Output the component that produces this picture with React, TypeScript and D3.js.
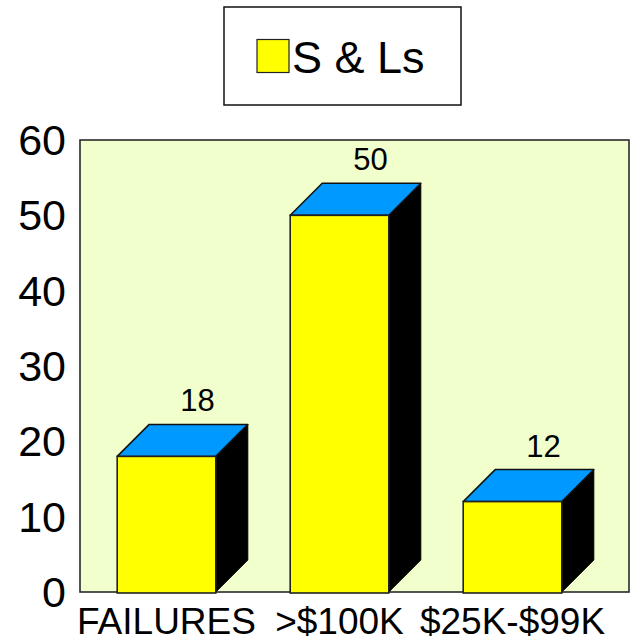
import * as d3 from "d3";

// 데이터
const categories = ["FAILURES", ">$100K", "$25K-$99K"];
const values = [18, 50, 12];
const yTicks = [0, 10, 20, 30, 40, 50, 60];
const seriesName = "S & Ls";

const W = 636;
const H = 641;
const FONT = "'Liberation Sans', Arial, Helvetica, sans-serif";

export default function App() {
  const plot = { left: 80, top: 140, right: 629, bottom: 592 };
  const depth = 32; // 3D 깊이 (px)

  const x = d3
    .scaleBand<string>()
    .domain(categories)
    .range([plot.left, plot.right - depth + 2])
    .paddingInner(0.43)
    .paddingOuter(0.215);
  const y = d3.scaleLinear().domain([0, 60]).range([plot.bottom, plot.top]);
  const bw = x.bandwidth();
  const y0 = y(0);

  return (
    <svg
      width={W}
      height={H}
      style={{ position: "absolute", left: 0, top: 0, fontFamily: FONT }}
    >
      <rect width={W} height={H} fill="white" />

      {/* 범례 */}
      <rect x={224} y={7} width={237} height={98} fill="white" stroke="#111" strokeWidth={1.5} />
      <rect x={257} y={39.5} width={32} height={33} fill="#FFFF00" stroke="#222" strokeWidth={1.2} />
      <text x={292} y={73} fontSize={45} fill="#000">
        {seriesName}
      </text>

      {/* 플롯 영역 */}
      <rect
        x={plot.left}
        y={plot.top}
        width={plot.right - plot.left}
        height={plot.bottom - plot.top}
        fill="#F0FFCC"
        stroke="#2a2a2a"
        strokeWidth={1.6}
      />

      {/* y축 눈금 */}
      {yTicks.map((t) => (
        <text
          key={t}
          x={66}
          y={y(t)}
          textAnchor="end"
          dominantBaseline="central"
          fontSize={43}
          fill="#000"
        >
          {t}
        </text>
      ))}

      {/* 3D 막대 */}
      {categories.map((c, i) => {
        const x0 = x(c)!;
        const x1 = x0 + bw;
        const yt = y(values[i]);
        const side = `M${x1},${yt} L${x1 + depth},${yt - depth} L${x1 + depth},${y0 - depth} L${x1},${y0} Z`;
        const top = `M${x0},${yt} L${x0 + depth},${yt - depth} L${x1 + depth},${yt - depth} L${x1},${yt} Z`;
        return (
          <g key={c}>
            <path d={side} fill="#000" stroke="#000" strokeWidth={1} />
            <path d={top} fill="#0099FF" stroke="#111" strokeWidth={1.5} strokeLinejoin="round" />
            <rect x={x0} y={yt} width={bw} height={y0 - yt + 1} fill="#FFFF00" stroke="#222" strokeWidth={1.6} />
            <text
              x={x0 + bw / 2 + depth - 1}
              y={yt - depth - 13}
              textAnchor="middle"
              fontSize={31}
              fill="#000"
            >
              {values[i]}
            </text>
          </g>
        );
      })}

      {/* x축 라벨 */}
      {categories.map((c) => (
        <text
          key={c}
          x={x(c)! + bw / 2}
          y={634}
          textAnchor="middle"
          fontSize={37}
          fill="#000"
        >
          {c}
        </text>
      ))}
    </svg>
  );
}
